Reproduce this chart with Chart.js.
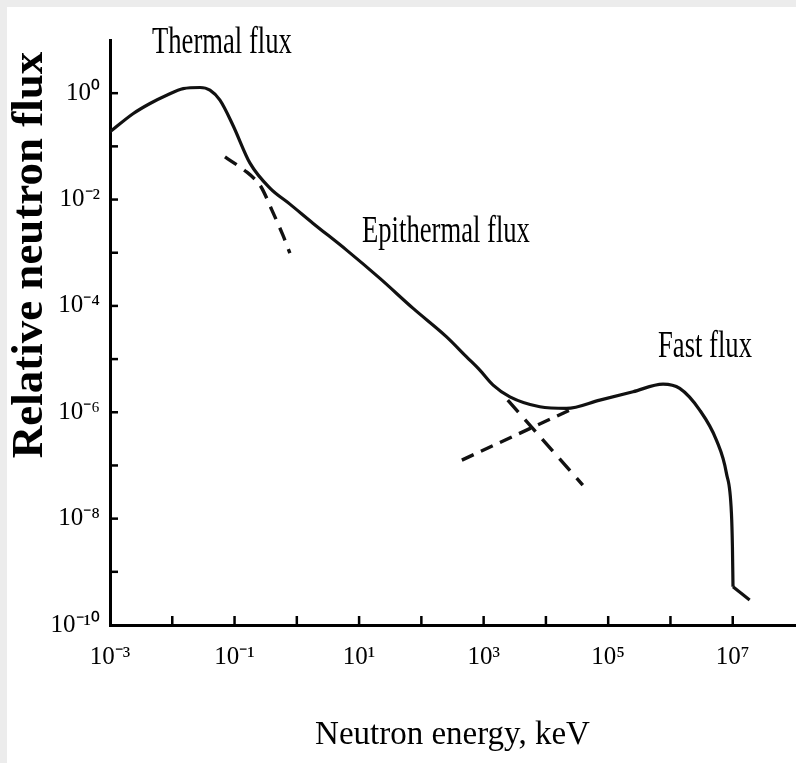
<!DOCTYPE html>
<html><head><meta charset="utf-8">
<script src="https://cdn.jsdelivr.net/npm/chart.js@4.4.0/dist/chart.umd.min.js"></script>
<style>
html,body{margin:0;padding:0;background:#ececec;width:796px;height:763px;overflow:hidden}
#box{position:absolute;left:7px;top:7px;width:789px;height:756px;background:#fff}
</style></head><body>
<div id="box"><canvas id="c"></canvas></div>
<script>
// Main spectrum (energy in keV, relative flux)
const energy = [1.0e-3, 2.37e-3, 4.39e-3, 8.13e-3, 1.50e-2, 2.79e-2, 4.03e-2, 5.83e-2, 9.42e-2,
  0.177, 0.370, 0.774, 1.81, 6.30, 21.6, 73.8, 254, 532, 869, 1.42e3, 2.64e3, 7.98e3, 2.14e4,
  7.33e4, 2.51e5, 7.60e5, 1.41e6, 2.95e6, 5.47e6, 7.93e6, 9.53e6, 9.89e6, 1.01e7];
const flux = [0.1875, 0.415, 0.640, 0.916, 1.22, 1.28, 1.14, 0.738, 0.250,
  4.83e-2, 1.64e-2, 8.20e-3, 3.60e-3, 1.12e-3, 3.29e-4, 8.97e-5, 2.62e-5, 1.10e-5, 6.21e-6, 3.24e-6, 1.95e-6, 1.27e-6, 1.18e-6,
  1.69e-6, 2.43e-6, 3.39e-6, 2.81e-6, 1.10e-6, 3.00e-7, 7.10e-8, 1.27e-8, 2.96e-9, 5.25e-10];
// High-energy tail after the kink
const tailE = [1.01e7, 1.87e7];
const tailF = [5.25e-10, 2.95e-10];
// Dashed extrapolations
const thermalE = [7.02e-2, 0.158, 0.256, 0.398, 0.598, 0.774];
const thermalF = [6.35e-2, 3.27e-2, 1.87e-2, 6.32e-3, 2.14e-3, 9.82e-4];
const epiE = [2.44e3, 3.91e4];
const epiF = [1.69e-6, 4.29e-8];
const fastE = [447, 2.42e4];
const fastF = [1.26e-7, 1.10e-6];
// Axes
const xTicks = [1e-3, 1e-2, 1e-1, 1e0, 1e1, 1e2, 1e3, 1e4, 1e5, 1e6, 1e7];
const xTickLabels = ['10⁻³', '', '10⁻¹', '', '10¹', '', '10³', '', '10⁵', '', '10⁷'];
const yTicks = [1e-10, 1e-9, 1e-8, 1e-7, 1e-6, 1e-5, 1e-4, 1e-3, 1e-2, 1e-1, 1e0];
const yTickLabels = ['10⁻¹⁰', '', '10⁻⁸', '', '10⁻⁶', '', '10⁻⁴', '', '10⁻²', '', '10⁰'];
const xTitle = 'Neutron energy, keV';
const yTitle = 'Relative neutron flux';
const labels = ['Thermal flux', 'Epithermal flux', 'Fast flux'];

const pts = (xs, ys) => xs.map((v, i) => ({x: v, y: ys[i]}));
const SERIF = "'Liberation Serif', 'Times New Roman', serif";
Chart.defaults.font.family = SERIF;
Chart.defaults.color = '#000';

const inwardTicks = {
  id: 'inwardTicks',
  afterDraw(chart) {
    const {ctx, chartArea: a, scales: {x, y}} = chart;
    ctx.save();
    ctx.strokeStyle = '#000';
    ctx.lineWidth = 2.5;
    yTicks.slice(1).forEach(v => {
      const py = y.getPixelForValue(v);
      ctx.beginPath(); ctx.moveTo(a.left, py); ctx.lineTo(a.left + 8, py); ctx.stroke();
    });
    xTicks.slice(1).forEach(v => {
      const px = x.getPixelForValue(v);
      ctx.beginPath(); ctx.moveTo(px, a.bottom); ctx.lineTo(px, a.bottom - 9); ctx.stroke();
    });
    ctx.restore();
  }
};

const texts = {
  id: 'texts',
  afterDraw(chart) {
    const ctx = chart.ctx;
    ctx.save();
    ctx.fillStyle = '#000';
    // y axis title
    ctx.save();
    ctx.translate(35, 248);
    ctx.rotate(-Math.PI / 2);
    ctx.font = 'bold 45px ' + SERIF;
    ctx.textAlign = 'center';
    ctx.textBaseline = 'alphabetic';
    ctx.fillText(yTitle, 0, 0);
    ctx.restore();
    // region labels
    const pos = [[145, 46], [355, 235], [651, 350]];
    ctx.font = '37px ' + SERIF;
    ctx.textAlign = 'left';
    ctx.textBaseline = 'alphabetic';
    labels.forEach((t, i) => {
      ctx.save();
      ctx.translate(pos[i][0], pos[i][1]);
      ctx.scale(0.72, 1);
      ctx.fillText(t, 0, 0);
      ctx.restore();
    });
    ctx.restore();
  }
};

new Chart(document.getElementById('c'), {
  type: 'scatter',
  data: {
    datasets: [
      {data: pts(energy, flux), showLine: true, borderColor: '#111', borderWidth: 3.2, pointRadius: 0, cubicInterpolationMode: 'monotone'},
      {data: pts(tailE, tailF), showLine: true, borderColor: '#111', borderWidth: 3.2, pointRadius: 0, tension: 0},
      {data: pts(thermalE, thermalF), showLine: true, borderColor: '#111', borderWidth: 3.4, pointRadius: 0, tension: 0.3, borderDash: [14, 9]},
      {data: pts(epiE, epiF), showLine: true, borderColor: '#111', borderWidth: 3.4, pointRadius: 0, borderDash: [16, 10]},
      {data: pts(fastE, fastF), showLine: true, borderColor: '#111', borderWidth: 3.4, pointRadius: 0, borderDash: [13, 8]}
    ]
  },
  options: {
    responsive: true,
    maintainAspectRatio: false,
    animation: false,
    layout: {padding: {top: 33, right: 1, left: 0, bottom: 0}},
    plugins: {legend: {display: false}, tooltip: {enabled: false}},
    scales: {
      x: {
        type: 'logarithmic', min: 1e-3, max: 1e8,
        afterBuildTicks: s => { s.ticks = xTicks.map(v => ({value: v})); },
        afterFit: s => { s.height = 138; },
        grid: {display: false, drawTicks: false},
        border: {display: true, color: '#000', width: 3},
        ticks: {autoSkip: false, maxRotation: 0, padding: 17, font: {size: 25}, color: '#000',
          callback: (v, i) => xTickLabels[i]},
        title: {display: true, text: xTitle, font: {size: 33}, color: '#000', padding: {top: 0, bottom: 8}}
      },
      y: {
        type: 'logarithmic', min: 1e-10, max: 1e1,
        afterBuildTicks: s => { s.ticks = yTicks.map(v => ({value: v})); },
        afterFit: s => { s.width = 103; },
        grid: {display: false, drawTicks: false},
        border: {display: true, color: '#000', width: 3},
        ticks: {autoSkip: false, padding: 10, font: {size: 25}, color: '#000',
          callback: (v, i) => yTickLabels[i]}
      }
    }
  },
  plugins: [inwardTicks, texts]
});
</script>
</body></html>
